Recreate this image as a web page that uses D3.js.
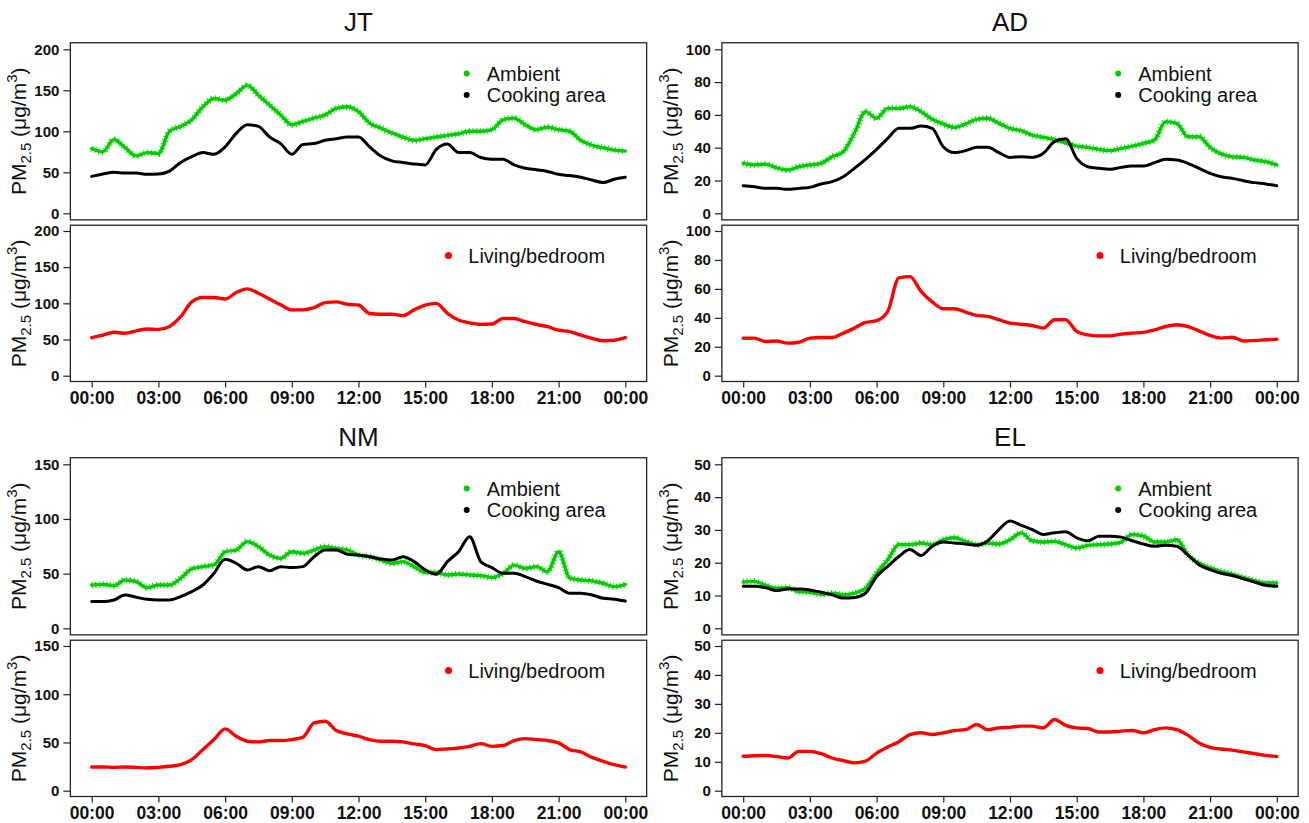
<!DOCTYPE html>
<html><head><meta charset="utf-8">
<script src="https://cdn.jsdelivr.net/npm/d3@7"></script>
<style>body{margin:0;background:#fff} svg{display:block} text{font-family:"Liberation Sans",Arial,Helvetica,sans-serif}</style>
</head><body><svg id="chart" width="1309" height="823"></svg>
<script>
// sample times (hours since midnight)
const timeHours = [0,0.5,1,1.5,2,2.5,3,3.5,4,4.5,5,5.5,6,6.5,7,7.5,8,8.5,9,9.5,10,10.5,11,11.5,12,12.5,13,13.5,14,14.5,15,15.5,16,16.5,17,17.5,18,18.5,19,19.5,20,20.5,21,21.5,22,22.5,23,23.5,24];
const xTickHours = [0,3,6,9,12,15,18,21,24];
const xTickLabels = ["00:00","03:00","06:00","09:00","12:00","15:00","18:00","21:00","00:00"];
const panelNames = ["JT","AD","NM","EL"];
const yMaxes = [200,100,150,50];
const yTickSteps = [50,20,50,10];
const seriesNames = ["Ambient","Cooking area","Living/bedroom"];

const jtAmbient = [79,75,90,80,70,74,73,100,106,114,130,140,138,146,156,144,132,120,108,112,116,120,128,130,124,110,104,98,93,89,91,93,95,97,100,100,102,114,116,108,102,105,102,100,89,83,80,77,76];
const jtCooking = [45,48,50,49,49,47.5,48,51.5,62,69,74,72,81,97.5,108,106,93,85,72,84,85,89,91,93,93,81,70,64,62,60,59,78,84.5,74,74,68,66,66,59,55,53,51,47.5,46,44,40.6,37.5,41.5,44];
const jtLiving = [52.5,56,60,58.6,62,64.5,64,68,81.5,102,108,108,106,115,120,114,106,98,91,91,94,101,102,98.7,97.7,86,85,85,83,91,97.7,100,86,77,73,71,71.5,79,79,74.6,71,67.7,63,61,56,51.7,48.4,49,52.5];

const adAmbient = [30.5,29.5,30,27.8,26.4,28.4,29.5,30.5,34.5,37.6,48.8,62,58,64,64,65,62,57.3,54.5,52.4,54.5,57.3,58,54.9,51.8,50.4,47.7,46.3,45,43,41,40.2,39,38.2,39.6,41,42.7,44.7,55.9,54.9,46.7,46.7,40.2,36.2,34.5,34.1,32.5,31.5,29.5];
const adCooking = [16.8,16.2,15.2,15.2,14.6,15.2,15.8,17.9,19.3,22.3,27.4,32.9,39,45.7,51.8,51.8,53.2,51.8,40.6,37,38.2,40.2,40.2,37,34.1,34.5,34.1,36.6,43.7,45.5,33.5,28.4,27.4,26.8,28,28.8,28.8,30.9,32.9,32.5,30.5,27.4,24.4,22.3,21.3,19.9,18.7,17.9,16.8];
const adLiving = [25.9,26,23.6,24,22.5,23.1,26,26.4,26.4,29.4,32.9,36.8,38,44.4,67.6,68.5,58.3,51,46.3,46.3,44,41.7,41,38.7,36.3,35.6,34.7,32.9,38.7,38.7,30.6,28.2,27.5,27.5,28.7,29.4,29.9,31.7,34,35.2,34,31,27.8,26,26.6,24,24.3,24.8,25.2];

const nmAmbient = [39.6,40.2,39,44.2,42.7,37.2,39.6,39.6,45.7,54.3,56.4,58,70,71.6,79.3,74.7,67,64,70,68.6,71.6,74.7,73,71.7,67,65.5,62.5,59.4,61,56.4,51,51,48.8,49.7,48.8,48.2,46.6,50.2,57.8,54.8,56.4,51.8,70,45.8,44.2,43.3,41.2,38.1,40.2];
const nmCooking = [24.4,24.4,25.9,30.5,28.4,26.5,25.9,25.9,29,33.5,39.6,50.3,63.1,59.5,53.4,56.4,52.7,56.4,55.5,56.4,65.5,71.6,71.7,67.8,67,65.5,63.4,62.5,65.5,61,53.4,49.5,61,70.1,83.8,61,55.5,50.3,50.3,47.3,43.3,40.3,37.2,32.1,32.1,30.5,27.5,26.6,25];
const nmLiving = [24.6,24.6,24.2,24.6,24.2,23.5,24.2,25.3,27,32.2,42.6,53,64.1,56.5,51.3,50.6,52,52,53,55.4,70.3,72,62.3,58.9,56.5,53,51.3,51.3,50.6,48.5,46.8,42.6,43.3,44.3,46,48.8,46,46.8,52,54,53,52,49.5,42.6,40.2,34.6,30.5,27,24.6];

const elAmbient = [14.1,14.3,13.1,12.2,12.4,11.2,11,10.4,10.7,10.2,10.7,12.2,16.8,20.9,25.5,25.5,26,25.5,27,27.6,26.5,25.5,26,25.7,27,29.1,26.7,26.3,26.5,25.5,24.5,25.3,25.5,25.7,26.3,28.6,28.1,26.3,26.3,27,22.4,19.9,18.4,17.3,16.5,15.5,14.5,13.8,13.8];
const elCooking = [12.8,12.8,12.4,11.5,12,12,11.7,11,10.2,9.2,9.4,10.7,15.8,18.9,21.9,24,22.2,25,26.3,26,25.7,25.3,26.7,30.1,32.7,31.4,30.1,28.6,29.1,29.4,27.6,26.7,28.1,28.1,27.8,26.7,25.7,25,25.3,25,22.4,19.4,17.9,16.8,16.1,15.1,14.1,13.1,12.8];
const elLiving = [11.9,12.1,12.2,11.8,11.3,13.6,13.6,12.8,11.3,10.4,9.6,10.2,13,15.1,16.9,19.4,20,19.4,20,20.8,21.1,22.9,21.1,21.7,21.9,22.3,22.3,21.7,24.6,22.6,21.7,21.5,20.3,20.3,20.6,20.8,20,21.1,21.7,21.1,19.2,16.5,15,14.4,14,13.4,12.8,12.2,11.8];

const ambientSets = [jtAmbient, adAmbient, nmAmbient, elAmbient];
const cookingSets = [jtCooking, adCooking, nmCooking, elCooking];
const livingSets = [jtLiving, adLiving, nmLiving, elLiving];

const GREEN = "#00cd00", BLACK = "#000000", RED = "#ff0000";
const svg = d3.select("#chart");

function yLabel(g, cx, cy) {
  const t = g.append("text")
    .attr("transform", `translate(${cx},${cy}) rotate(-90)`)
    .attr("text-anchor", "middle")
    .attr("font-size", 21)
    .attr("fill", "#111");
  t.append("tspan").text("PM");
  t.append("tspan").attr("font-size", 15).attr("dy", 5).text("2.5");
  t.append("tspan").attr("dy", -5).text(" (\u03bcg/m");
  t.append("tspan").attr("font-size", 15).attr("dy", -9).text("3");
  t.append("tspan").attr("dy", 9).text(")");
}

panelNames.forEach((name, i) => {
  const col = i % 2, row = Math.floor(i / 2);
  const ox = col * 651.5, oy = row * 415;
  const g = svg.append("g");
  const ymax = yMaxes[i], step = yTickSteps[i];
  const xs = d3.scaleLinear().domain([0, 24]).range([ox + 91.7, ox + 625.3]);
  const x0 = xs(-0.96), x1 = xs(24.96);
  const yTop = d3.scaleLinear().domain([0, ymax]).range([oy + 213.3, oy + 49.3]);
  const yBot = d3.scaleLinear().domain([0, ymax]).range([oy + 375.7, oy + 231]);
  const ticks = d3.range(0, ymax + 0.001, step);

  // title
  g.append("text").attr("x", (x0 + x1) / 2).attr("y", oy + 31)
    .attr("text-anchor", "middle").attr("font-size", 26).attr("fill", "#111").text(name);

  [[yTop, "top"], [yBot, "bot"]].forEach(([ys, which]) => {
    const by0 = ys(ymax * 1.04), by1 = ys(-ymax * 0.04);
    const cid = `clip-${i}-${which}`;
    svg.append("clipPath").attr("id", cid).append("rect")
      .attr("x", x0).attr("y", by0).attr("width", x1 - x0).attr("height", by1 - by0);
    const ax = g.append("g").attr("transform", `translate(${x0},0)`)
      .call(d3.axisLeft(ys).tickValues(ticks).tickSize(7).tickPadding(4).tickFormat(d3.format("d")));
    ax.select(".domain").remove();
    ax.selectAll("line").attr("stroke", "#222").attr("stroke-width", 1.2);
    ax.selectAll("text").attr("font-size", 15).attr("font-weight", "bold").attr("fill", "#111")
      .attr("font-family", '"Liberation Sans",Arial,sans-serif');
    yLabel(g, ox + 26, (by0 + by1) / 2);

    const plot = g.append("g").attr("clip-path", `url(#${cid})`);
    const line = d3.line().curve(d3.curveMonotoneX)
      .x((d, k) => xs(timeHours[k])).y(d => ys(d)).defined(d => d != null);
    if (which === "top") {
      plot.append("path").datum(ambientSets[i]).attr("d", line)
        .attr("fill", "none").attr("stroke", GREEN).attr("stroke-width", 6.5)
        .attr("stroke-dasharray", "1 2.6").attr("stroke-opacity", 0.85).attr("stroke-linejoin", "round");
      plot.append("path").datum(ambientSets[i]).attr("d", line)
        .attr("fill", "none").attr("stroke", GREEN).attr("stroke-width", 3.4)
        .attr("stroke-linejoin", "round").attr("stroke-linecap", "round");
      plot.append("path").datum(cookingSets[i]).attr("d", line)
        .attr("fill", "none").attr("stroke", BLACK).attr("stroke-width", 3)
        .attr("stroke-linejoin", "round").attr("stroke-linecap", "round");
    } else {
      plot.append("path").datum(livingSets[i]).attr("d", line)
        .attr("fill", "none").attr("stroke", RED).attr("stroke-width", 3.4)
        .attr("stroke-linejoin", "round").attr("stroke-linecap", "round");
    }
    g.append("rect").attr("x", x0).attr("y", by0).attr("width", x1 - x0).attr("height", by1 - by0)
      .attr("fill", "none").attr("stroke", "#222").attr("stroke-width", 1.3);
  });

  // x axis
  const xa = g.append("g").attr("transform", `translate(0,${yBot(-ymax * 0.04)})`)
    .call(d3.axisBottom(xs).tickValues(xTickHours).tickSize(6).tickFormat((d, k) => xTickLabels[k]));
  xa.select(".domain").attr("d", `M${xs(0)},0H${xs(24)}`).attr("stroke", "#222").attr("stroke-width", 1.2);
  xa.selectAll("line").attr("stroke", "#222").attr("stroke-width", 1.2);
  xa.selectAll("text").attr("y", 22.5).attr("dy", 0).attr("font-size", 17.5).attr("font-weight", "bold")
    .attr("fill", "#111").attr("font-family", '"Liberation Sans",Arial,sans-serif');

  // legends
  const lx = ox + 466.7, tx = ox + 486.7;
  g.append("circle").attr("cx", lx).attr("cy", oy + 73.5).attr("r", 3).attr("fill", GREEN);
  g.append("text").attr("x", tx).attr("y", oy + 80.5).attr("font-size", 20).attr("fill", "#111").text(seriesNames[0]);
  g.append("circle").attr("cx", lx).attr("cy", oy + 95).attr("r", 3).attr("fill", BLACK);
  g.append("text").attr("x", tx).attr("y", oy + 102).attr("font-size", 20).attr("fill", "#111").text(seriesNames[1]);
  g.append("circle").attr("cx", ox + 448.5).attr("cy", oy + 255.5).attr("r", 3.5).attr("fill", RED);
  g.append("text").attr("x", ox + 468.3).attr("y", oy + 263).attr("font-size", 20).attr("fill", "#111").text(seriesNames[2]);
});
</script></body></html>
